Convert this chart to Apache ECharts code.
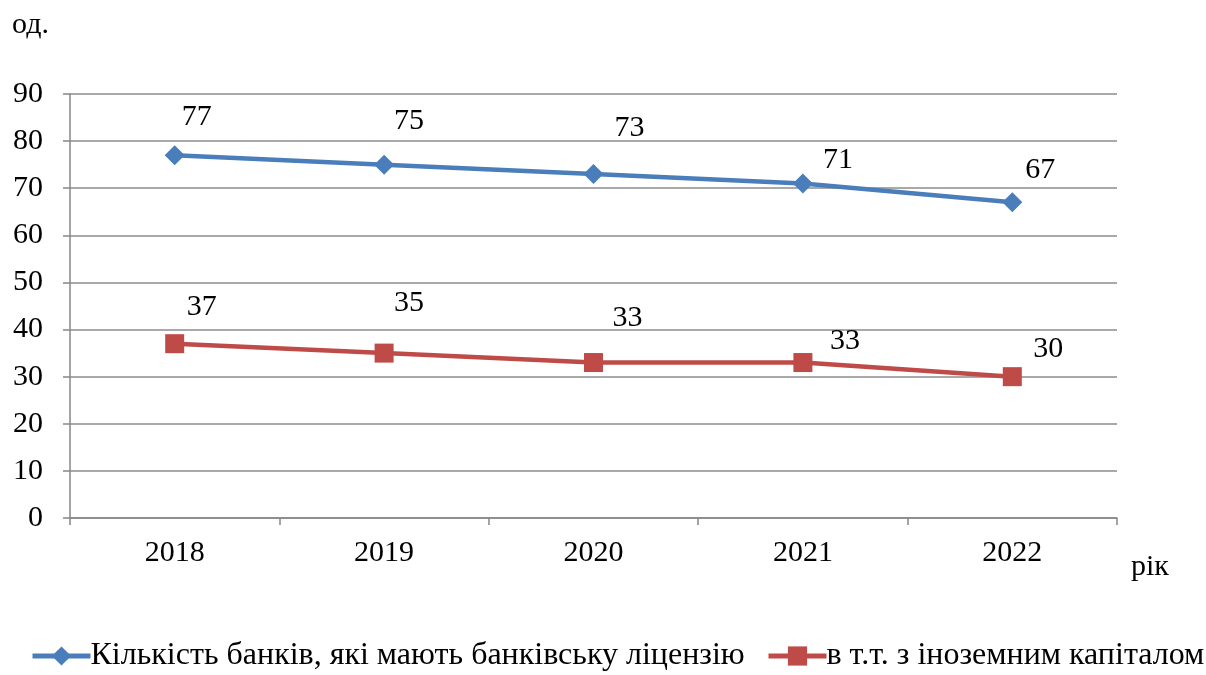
<!DOCTYPE html>
<html>
<head>
<meta charset="utf-8">
<script src="https://cdn.jsdelivr.net/npm/echarts@6/dist/echarts.min.js"></script>
<style>
  html, body { margin: 0; padding: 0; background: #fff; }
  #chart { width: 1206px; height: 675px; }
</style>
</head>
<body>
<div id="chart"></div>
<script>
// Years on the category axis
const years = ['2018', '2019', '2020', '2021', '2022'];
// Number of banks holding a banking licence
const licensedBanks = [77, 75, 73, 71, 67];
// Of which: banks with foreign capital
const foreignCapitalBanks = [37, 35, 33, 33, 30];
// Y-axis range and step
const yMin = 0, yMax = 90, yStep = 10;
// Series names shown in the legend
const seriesNames = ['Кількість банків, які мають банківську ліцензію', 'в т.т. з іноземним капіталом'];

// Per-point label offsets (pixels from the marker centre)
const licensedLabelOffsets = [[22, -38], [25, -44], [36, -46], [35, -23], [28, -32]];
const foreignLabelOffsets = [[27, -37], [25, -50], [34, -44], [42, -21], [36, -28]];

const FONT = 'Liberation Serif';
const FS = 30;
const BLUE = '#4A7EBB';
const RED = '#BE4B48';

function withLabels(values, offsets) {
  return values.map((v, i) => ({
    value: v,
    label: { offset: offsets[i] }
  }));
}

// One legend block per series, laid out side by side on a single row
function legendBlock(name, left) {
  return {
    top: 640,
    left: left,
    width: 900,
    padding: 0,
    itemWidth: 58,
    itemHeight: 24,
    lineStyle: { width: 5 },
    textStyle: { color: '#000', fontFamily: FONT, fontSize: 32, padding: [0, 0, 0, -5] },
    data: [name]
  };
}

const chart = echarts.init(document.getElementById('chart'));
chart.setOption({
  animation: false,
  textStyle: { fontFamily: FONT, fontSize: FS },
  grid: { left: 70, right: 89, top: 94, bottom: 157, containLabel: false },
  xAxis: {
    type: 'category',
    data: years,
    boundaryGap: true,
    axisLine: { lineStyle: { color: '#878787', width: 1.5 } },
    axisTick: { show: true, length: 7, lineStyle: { color: '#878787', width: 1.5 } },
    axisLabel: { color: '#000', fontFamily: FONT, fontSize: FS, margin: 20 },
    splitLine: { show: false }
  },
  yAxis: {
    type: 'value',
    min: yMin, max: yMax, interval: yStep,
    axisLine: { show: true, lineStyle: { color: '#878787', width: 1.5 } },
    axisTick: { show: true, length: 7, lineStyle: { color: '#878787', width: 1.5 } },
    axisLabel: { color: '#000', fontFamily: FONT, fontSize: FS, margin: 27 },
    splitLine: { show: true, lineStyle: { color: '#8c8c8c', width: 1.5 } }
  },
  legend: [legendBlock(seriesNames[0], 30), legendBlock(seriesNames[1], 766)],
  graphic: [
    { type: 'text', left: 12, top: 10, style: { text: 'од.', fontFamily: FONT, fontSize: FS, fill: '#000' } },
    { type: 'text', left: 1131, top: 552, style: { text: 'рік', fontFamily: FONT, fontSize: FS, fill: '#000' } }
  ],
  series: [
    {
      name: seriesNames[0],
      type: 'line',
      data: withLabels(licensedBanks, licensedLabelOffsets),
      symbol: 'diamond',
      symbolSize: 20,
      showAllSymbol: true,
      lineStyle: { color: BLUE, width: 4.5 },
      itemStyle: { color: BLUE },
      label: { show: true, position: 'inside', color: '#000', fontFamily: FONT, fontSize: FS }
    },
    {
      name: seriesNames[1],
      type: 'line',
      data: withLabels(foreignCapitalBanks, foreignLabelOffsets),
      symbol: 'rect',
      symbolSize: 19,
      showAllSymbol: true,
      lineStyle: { color: RED, width: 4.5 },
      itemStyle: { color: RED },
      label: { show: true, position: 'inside', color: '#000', fontFamily: FONT, fontSize: FS }
    }
  ]
});
</script>
</body>
</html>
